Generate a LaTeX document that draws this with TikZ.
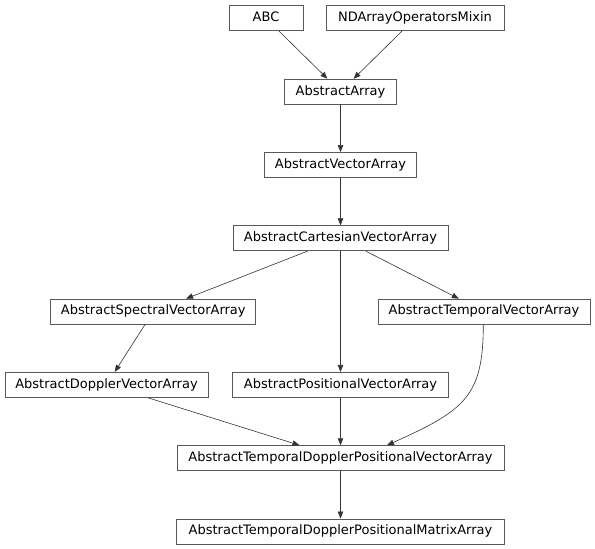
\documentclass[tikz,border=0pt]{standalone}
\usepackage{fontspec}
\setmainfont{DejaVu Sans}
\usetikzlibrary{arrows.meta}
\begin{document}
\begin{tikzpicture}[x=1pt,y=-1pt,
  cls/.style={draw=black!65, line width=0.7pt, rectangle, minimum height=25pt,
    inner xsep=0pt, inner ysep=0pt, text height=9.5pt, text depth=2.6pt,
    font=\fontsize{13pt}{15pt}\selectfont},
  edge/.style={draw=black!80, line width=0.6pt, -{Triangle[length=7pt,width=5.5pt]}}]
\useasboundingbox (0,0) rectangle (595,549);
\fill[white] (0,0) rectangle (595,549);
\node[cls, minimum width=74pt] (abc) at (266,18.3) {ABC};
\node[cls, minimum width=178pt] (nd) at (415,18.3) {NDArrayOperatorsMixin};
\node[cls, minimum width=112pt] (aa) at (340.5,91.6) {AbstractArray};
\node[cls, minimum width=152pt] (ava) at (340.5,164.9) {AbstractVectorArray};
\node[cls, minimum width=215pt] (acva) at (340.5,238.2) {AbstractCartesianVectorArray};
\node[cls, minimum width=205pt] (asva) at (153.3,311.5) {AbstractSpectralVectorArray};
\node[cls, minimum width=212pt] (atva) at (484,311.5) {AbstractTemporalVectorArray};
\node[cls, minimum width=203pt] (adva) at (106.5,384.8) {AbstractDopplerVectorArray};
\node[cls, minimum width=216pt] (apva) at (340.5,384.8) {AbstractPositionalVectorArray};
\node[cls, minimum width=327pt] (tdpv) at (340.5,458.1) {AbstractTemporalDopplerPositionalVectorArray};
\node[cls, minimum width=328pt] (tdpm) at (340.5,531.4) {AbstractTemporalDopplerPositionalMatrixArray};
\draw[edge] (abc) -- (aa);
\draw[edge] (nd) -- (aa);
\draw[edge] (aa) -- (ava);
\draw[edge] (ava) -- (acva);
\draw[edge] (acva) -- (asva);
\draw[edge] (acva) -- (atva);
\draw[edge] (acva) -- (apva);
\draw[edge] (asva) -- (adva);
\draw[edge] (adva) -- (tdpv);
\draw[edge] (apva) -- (tdpv);
\draw[edge] ([xshift=-0.7pt]atva.south) .. controls +(0,72) and +(78,-35) .. ([xshift=46.5pt]tdpv.north);
\draw[edge] (tdpv) -- (tdpm);
\end{tikzpicture}
\end{document}
